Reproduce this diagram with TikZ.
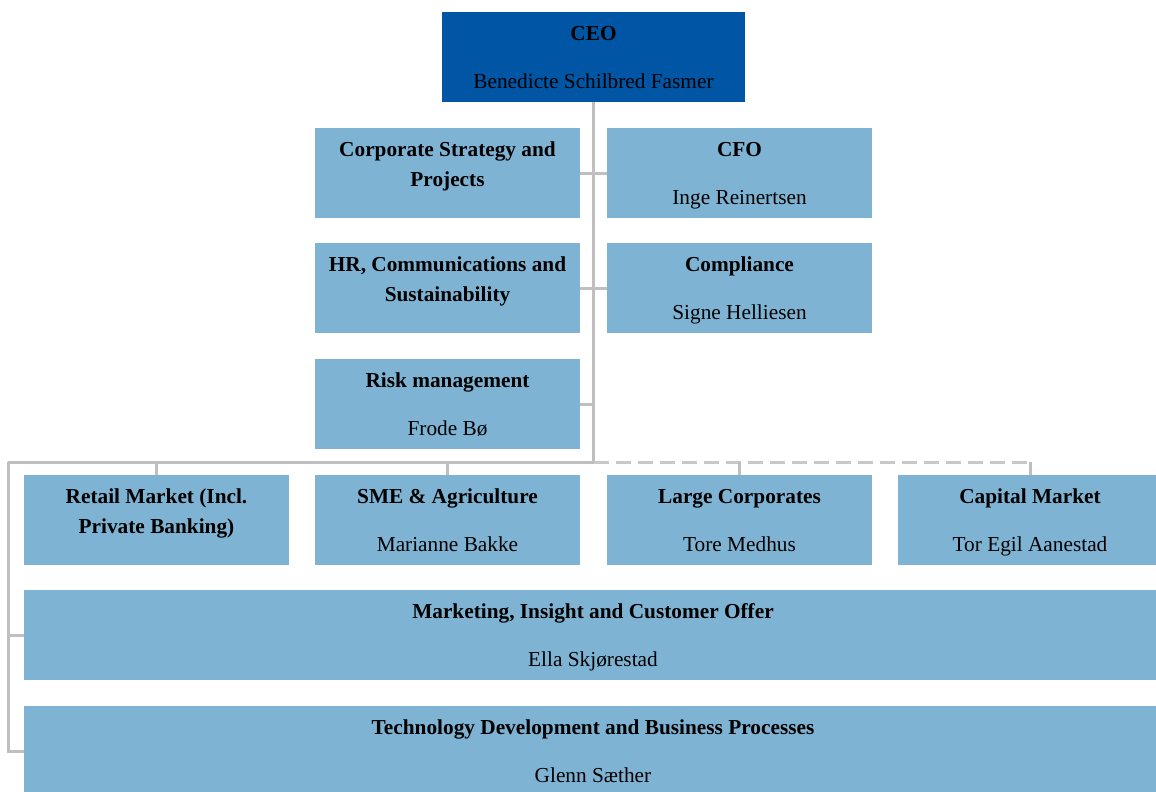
\documentclass[tikz,border=0pt]{standalone}
\usepackage{fontspec}
\setmainfont{Liberation Serif}
\definecolor{ceoblue}{RGB}{0,86,164}
\definecolor{boxblue}{RGB}{127,179,211}
\definecolor{linegray}{RGB}{191,191,191}
\definecolor{dashgray}{RGB}{200,200,200}
\begin{document}
\begin{tikzpicture}[x=1pt,y=-1pt,
  orgbox/.style={draw=none,fill=boxblue,minimum height=90pt,minimum width=265pt,inner sep=0pt,outer sep=0pt},
  widebox/.style={orgbox,minimum width=1138pt},
  ceobox/.style={orgbox,fill=ceoblue,minimum width=303pt},
  ttl/.style={anchor=base,font=\fontsize{21.3}{25}\selectfont\bfseries,inner sep=0pt},
  nm/.style={anchor=base,font=\fontsize{21.3}{25}\selectfont,inner sep=0pt},
  conn/.style={draw=linegray,line width=3pt},
  dconn/.style={draw=dashgray,line width=3pt,dash pattern=on 15pt off 7pt}]
\useasboundingbox (0,0) rectangle (1156,792);
\clip (0,0) rectangle (1156,792);
% boxes
\node[ceobox] (ceo) at (593.5,57) {};
\node[orgbox] (corp) at (447.5,173) {};
\node[orgbox] (cfo) at (739.5,173) {};
\node[orgbox] (hr) at (447.5,288) {};
\node[orgbox] (comp) at (739.5,288) {};
\node[orgbox] (risk) at (447.5,404) {};
\node[orgbox] (retail) at (156.5,520) {};
\node[orgbox] (sme) at (447.5,520) {};
\node[orgbox] (large) at (739.5,520) {};
\node[orgbox] (capital) at (1030,520) {};
\node[widebox] (mkt) at (593,635) {};
\node[widebox] (tech) at (593,751) {};
% coordinates of the bus
\coordinate (bus) at (593.5,462);
\coordinate (busL) at (8,462);
\coordinate (busR) at (1030,462);
% connectors
\draw[conn] (ceo.south) -- (bus);
\draw[conn] (corp.east) -- (cfo.west);
\draw[conn] (hr.east) -- (comp.west);
\draw[conn] (risk.east) -- (risk.east -| bus);
\draw[conn] (bus) -- (busL);
\draw[conn] (retail.north) -- (retail.north |- busL);
\draw[conn] (sme.north) -- (sme.north |- busL);
\draw[dconn] (bus) -- (busR);
\draw[conn] (large.north) -- (large.north |- busL);
\draw[conn] (capital.north) -- (busR);
\draw[conn] (busL) -- (busL |- tech.west) -- (tech.west);
\draw[conn] (busL |- mkt.west) -- (mkt.west);
% texts
\node[ttl] (ceot) at (593.5,40.5) {CEO};
\node[nm] (ceon) at (593.5,88.5) {Benedicte Schilbred Fasmer};
\node[ttl] (corpt1) at (447.5,156.5) {Corporate Strategy and};
\node[ttl] (corpt2) at (447.5,186.5) {Projects};
\node[ttl] (cfot) at (739.5,156.5) {CFO};
\node[nm] (cfon) at (739.5,204.5) {Inge Reinertsen};
\node[ttl] (hrt1) at (447.5,271.5) {HR, Communications and};
\node[ttl] (hrt2) at (447.5,301.5) {Sustainability};
\node[ttl] (compt) at (739.5,271.5) {Compliance};
\node[nm] (compn) at (739.5,319.5) {Signe Helliesen};
\node[ttl] (riskt) at (447.5,387.5) {Risk management};
\node[nm] (riskn) at (447.5,435.5) {Frode Bø};
\node[ttl] (retailt1) at (156.5,503.5) {Retail Market (Incl.};
\node[ttl] (retailt2) at (156.5,533.5) {Private Banking)};
\node[ttl] (smet) at (447.5,503.5) {SME \& Agriculture};
\node[nm] (smen) at (447.5,551.5) {Marianne Bakke};
\node[ttl] (larget) at (739.5,503.5) {Large Corporates};
\node[nm] (largen) at (739.5,551.5) {Tore Medhus};
\node[ttl] (capt) at (1030,503.5) {Capital Market};
\node[nm] (capn) at (1030,551.5) {Tor Egil Aanestad};
\node[ttl] (mktt) at (593,618.5) {Marketing, Insight and Customer Offer};
\node[nm] (mktn) at (593,666.5) {Ella Skjørestad};
\node[ttl] (techt) at (593,734.5) {Technology Development and Business Processes};
\node[nm] (techn) at (593,782.5) {Glenn Sæther};
\end{tikzpicture}
\end{document}
